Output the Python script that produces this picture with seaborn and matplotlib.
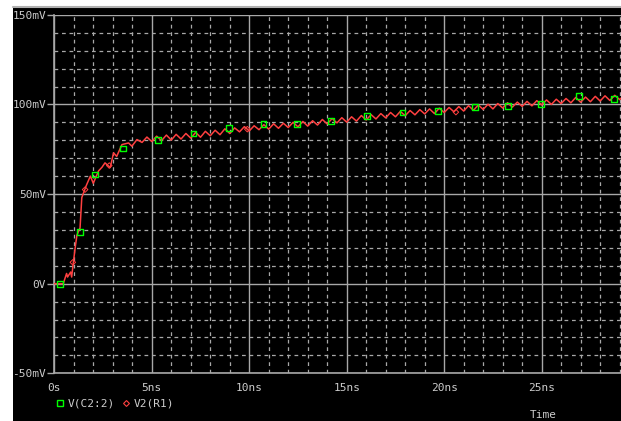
import numpy as np
import pandas as pd
import matplotlib
matplotlib.use("Agg")
import matplotlib.pyplot as plt
from matplotlib.ticker import MultipleLocator, FixedLocator, FixedFormatter
import seaborn as sns

# V2(R1): rising edge (ns, mV)
rise_t = [0, 0.3, 0.46, 0.63, 0.68, 0.84, 0.89, 0.98, 1.07, 1.16, 1.25, 1.32, 1.41, 1.5,
          1.65, 1.85, 2.0, 2.27, 2.45, 2.6, 2.87, 3.04, 3.2, 3.47, 3.81, 3.98, 4.24]
rise_v = [0, 0, 0, 5.7, 3.7, 6.5, 3.7, 12, 20, 27, 29.5, 31, 48, 50.7,
          55, 60, 56, 62.9, 65, 67.4, 64.8, 73, 71, 77.6, 78.5, 76.7, 80.4]

# V2(R1): ripple part, every 0.25ns from 4.5ns
ripple_t = [4.5, 4.75, 5.0, 5.25, 5.5, 5.75, 6.0, 6.25, 6.5, 6.75, 7.0, 7.25, 7.5, 7.75,
            8.0, 8.25, 8.5, 8.75, 9.0, 9.25, 9.5, 9.75, 10.0, 10.25, 10.5, 10.75, 11.0,
            11.25, 11.5, 11.75, 12.0, 12.25, 12.5, 12.75, 13.0, 13.25, 13.5, 13.75, 14.0,
            14.25, 14.5, 14.75, 15.0, 15.25, 15.5, 15.75, 16.0, 16.25, 16.5, 16.75, 17.0,
            17.25, 17.5, 17.75, 18.0, 18.25, 18.5, 18.75, 19.0, 19.25, 19.5, 19.75, 20.0,
            20.25, 20.5, 20.75, 21.0, 21.25, 21.5, 21.75, 22.0, 22.25, 22.5, 22.75, 23.0,
            23.25, 23.5, 23.75, 24.0, 24.25, 24.5, 24.75, 25.0, 25.25, 25.5, 25.75, 26.0,
            26.25, 26.5, 26.75, 27.0, 27.25, 27.5, 27.75, 28.0, 28.25, 28.5, 28.75, 29.0,
            29.25]
ripple_v = [78.8, 81.8, 79.3, 82.3, 79.8, 82.9, 80.1, 83.3, 80.7, 83.8, 81.2, 84.4, 81.7, 85.0,
            82.5, 85.6, 83.1, 86.4, 83.8, 86.9, 84.7, 87.6, 85.2, 88.1, 85.9, 88.7, 86.2,
            89.2, 86.7, 89.5, 87.1, 90.0, 87.5, 90.5, 87.9, 90.9, 88.5, 91.6, 89.1,
            92.1, 89.7, 92.6, 90.1, 93.1, 90.7, 93.8, 91.3, 94.3, 91.9, 94.9, 92.5,
            95.5, 93.1, 96.1, 93.7, 96.6, 94.2, 97.1, 94.7, 97.5, 94.9, 97.9, 95.5,
            98.3, 95.9, 98.8, 96.3, 99.3, 96.7, 99.7, 97.2, 100.1, 97.5, 100.5, 98.0,
            100.9, 98.5, 101.3, 98.9, 101.7, 99.2, 102.1, 99.7, 102.5, 100.0, 102.9, 100.5,
            103.3, 100.9, 103.9, 101.2, 104.1, 101.5, 104.5, 101.9, 104.8, 102.2, 105.1, 102.7,
            105.3]

# V(C2:2) marker points
c2_t = [0.31, 1.33, 2.09, 3.52, 5.31, 7.14, 8.98, 10.73, 12.46, 14.2, 16.04, 17.86,
        19.69, 21.57, 23.28, 24.98, 26.92, 28.71]
c2_v = [0, 29, 60.9, 75.4, 80.4, 83.8, 86.6, 89.2, 89.2, 90.7, 93.3, 95.5,
        96.1, 98.5, 99.1, 100.2, 104.9, 102.8]

# V2(R1) marker points
r1_t = [0.95, 1.58, 2.82, 9.9, 20.6]
r1_v = [11.9, 52.5, 65.9, 86.2, 95.7]

y_ticks = [-50, 0, 50, 100, 150]
y_labels = ["-50mV", "0V", "50mV", "100mV", "150mV"]
x_ticks = [0, 5, 10, 15, 20, 25]
x_labels = ["0s", "5ns", "10ns", "15ns", "20ns", "25ns"]

red = pd.DataFrame({"t": rise_t + ripple_t, "v": rise_v + ripple_v})
green = pd.DataFrame({"t": c2_t, "v": c2_v})
rmark = pd.DataFrame({"t": r1_t, "v": r1_v})

sns.set_style("dark")
plt.rcParams["font.family"] = ["DejaVu Sans Mono", "DejaVu Sans"]
txt = "#cccccc"
gridc = "#a8a8a8"
redc = "#ff4040"

fig = plt.figure(figsize=(6.21, 4.21), dpi=100, facecolor="white")
# black panel with grey top rule, behind everything
fig.add_artist(plt.Rectangle((13 / 621, 0), 1, 414 / 421, transform=fig.transFigure,
                             facecolor="black", edgecolor="none", zorder=-10))
fig.add_artist(plt.Line2D([13 / 621, 1], [414.5 / 421, 414.5 / 421], transform=fig.transFigure,
                          color="#b0b0b0", lw=1.5, zorder=-9))

ax = fig.add_axes([54.3 / 621, 47.7 / 421, 1 - 54.3 / 621, 358.5 / 421])
ax.set_zorder(1)
ax.set_facecolor("black")

sns.lineplot(data=red, x="t", y="v", ax=ax, color=redc, lw=1.1, zorder=4)
sns.scatterplot(data=rmark, x="t", y="v", ax=ax, marker="D", s=8, facecolor="none",
                edgecolor=redc, linewidth=0.7, zorder=5)
sns.scatterplot(data=green, x="t", y="v", ax=ax, marker="s", s=18, facecolor="none",
                edgecolor="#00ff00", linewidth=1.0, zorder=6)

ax.set_xlim(0, 29.07)
ax.set_ylim(-50, 150)
ax.xaxis.set_major_locator(FixedLocator(x_ticks))
ax.xaxis.set_major_formatter(FixedFormatter(x_labels))
ax.yaxis.set_major_locator(FixedLocator(y_ticks))
ax.yaxis.set_major_formatter(FixedFormatter(y_labels))
ax.xaxis.set_minor_locator(MultipleLocator(1))
ax.yaxis.set_minor_locator(MultipleLocator(10))

ax.grid(which="major", color=gridc, lw=1, ls="-", zorder=1)
ax.grid(which="minor", color=gridc, lw=0.9, ls=(0, (3, 3)), zorder=1)
ax.set_axisbelow(True)

ax.tick_params(axis="y", which="major", length=5, width=1, color=gridc, pad=1,
               labelcolor=txt, labelsize=8, left=True)
ax.tick_params(axis="x", which="major", length=0, pad=7, labelcolor=txt, labelsize=8)
ax.tick_params(which="minor", length=0)

for s in ["top", "right"]:
    ax.spines[s].set_visible(False)
for s in ["left", "bottom"]:
    ax.spines[s].set_visible(True)
    ax.spines[s].set_color(gridc)
    ax.spines[s].set_linewidth(1.2)

ax.set_xlabel("")
ax.set_ylabel("")

# legend row under the axis
lx = fig.transFigure
fig.add_artist(plt.Line2D([59.6 / 621], [1 - 403 / 421], transform=lx, marker="s", ms=4,
                          mfc="none", mec="#00ff00", mew=1, ls="none"))
fig.text(68 / 621, 1 - 403 / 421, "V(C2:2)", color=txt, fontsize=8, va="center")
fig.add_artist(plt.Line2D([126 / 621], [1 - 403 / 421], transform=lx, marker="D", ms=3,
                          mfc="none", mec=redc, mew=0.8, ls="none"))
fig.text(134 / 621, 1 - 403 / 421, "V2(R1)", color=txt, fontsize=8, va="center")
fig.text(530 / 621, 1 - 415 / 421, "Time", color=txt, fontsize=8, va="center")

fig.savefig("out.png", dpi=100, facecolor="white")
